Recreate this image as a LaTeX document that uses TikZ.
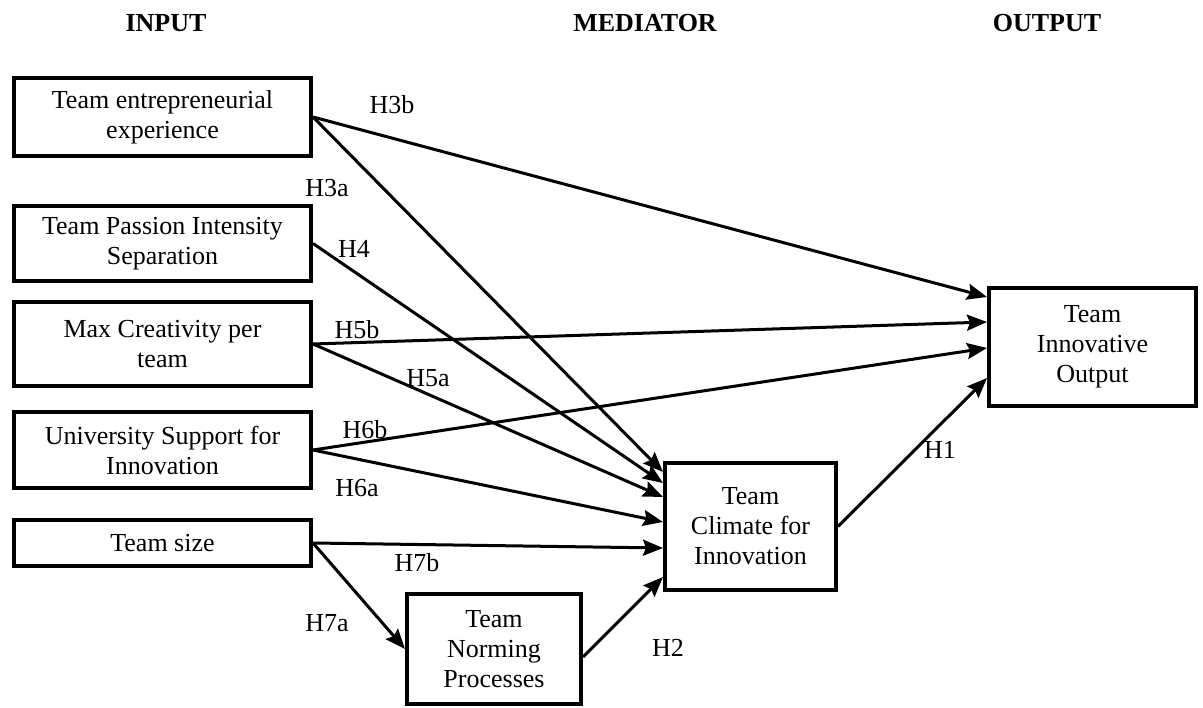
\documentclass[tikz,border=0pt]{standalone}
\usepackage{fontspec}
\setmainfont{Liberation Serif}
\usetikzlibrary{arrows.meta,calc}
\begin{document}
\begin{tikzpicture}[x=1pt,y=-1pt,
  box/.style={draw,line width=4pt,align=center,inner sep=0pt,
    font=\fontsize{26}{30}\selectfont},
  hyp/.style={font=\fontsize{26}{30}\selectfont,inner sep=0pt},
  head/.style={font=\fontsize{26}{30}\selectfont\bfseries,anchor=base,inner sep=0pt},
  link/.style={line width=3pt,-{Stealth[length=20pt,width=16pt,inset=3pt]}}
]
\useasboundingbox (0,0) rectangle (1203,708);

% column headings
\node[head] (hin)  at (166,32)  {INPUT};
\node[head] (hmed) at (645,32)  {MEDIATOR};
\node[head] (hout) at (1047,32) {OUTPUT};

% input variables
\node[box,minimum width=297pt,minimum height=78pt] (b1) at (162.5,117)   {Team entrepreneurial\\experience};
\node[box,minimum width=297pt,minimum height=75pt] (b2) at (162.5,243.5) {Team Passion Intensity\\Separation};
\node[box,minimum width=297pt,minimum height=84pt] (b3) at (162.5,344)   {Max Creativity per\\team};
\node[box,minimum width=297pt,minimum height=76pt] (b4) at (162.5,450)   {University Support for\\Innovation};
\node[box,minimum width=297pt,minimum height=46pt] (b5) at (162.5,543)   {Team size};

% mediators and outcome
\node[box,minimum width=174pt,minimum height=110pt] (nm)  at (494,649)     {Team\\Norming\\Processes};
\node[box,minimum width=171pt,minimum height=127pt] (cl)  at (750.5,526.5) {Team\\Climate for\\Innovation};
\node[box,minimum width=207pt,minimum height=118pt] (out) at (1092.5,347)  {Team\\Innovative\\Output};

% hypothesis labels
\node[hyp] (l3b) at (392,105) {H3b};
\node[hyp] (l3a) at (327,188) {H3a};
\node[hyp] (l4)  at (354,249) {H4};
\node[hyp] (l5b) at (357,330) {H5b};
\node[hyp] (l5a) at (428,378) {H5a};
\node[hyp] (l6b) at (365,430) {H6b};
\node[hyp] (l6a) at (357,488) {H6a};
\node[hyp] (l7b) at (417,563) {H7b};
\node[hyp] (l7a) at (327,623) {H7a};
\node[hyp] (l2)  at (668,648) {H2};
\node[hyp] (l1)  at (940,450) {H1};

% paths to the outcome
\draw[link] (b1.east) -- ($(out.west)+(0,-50)$);
\draw[link] (b3.east) -- ($(out.west)+(0,-25)$);
\draw[link] (b4.east) -- ($(out.west)+(0,1)$);
\draw[link] (cl.east) -- ($(out.west)+(0,31)$);

% paths to the team climate
\draw[link] (b1.east) -- ($(cl.west)+(0,-54.5)$);
\draw[link] (b2.east) -- ($(cl.west)+(0,-43.5)$);
\draw[link] (b3.east) -- ($(cl.west)+(0,-29.5)$);
\draw[link] (b4.east) -- ($(cl.west)+(0,-4.5)$);
\draw[link] (b5.east) -- ($(cl.west)+(0,21.5)$);
\draw[link] ($(nm.east)+(0,8)$) -- ($(cl.west)+(0,50.5)$);

% team size to norming
\draw[link] (b5.east) -- (nm.west);
\end{tikzpicture}
\end{document}
